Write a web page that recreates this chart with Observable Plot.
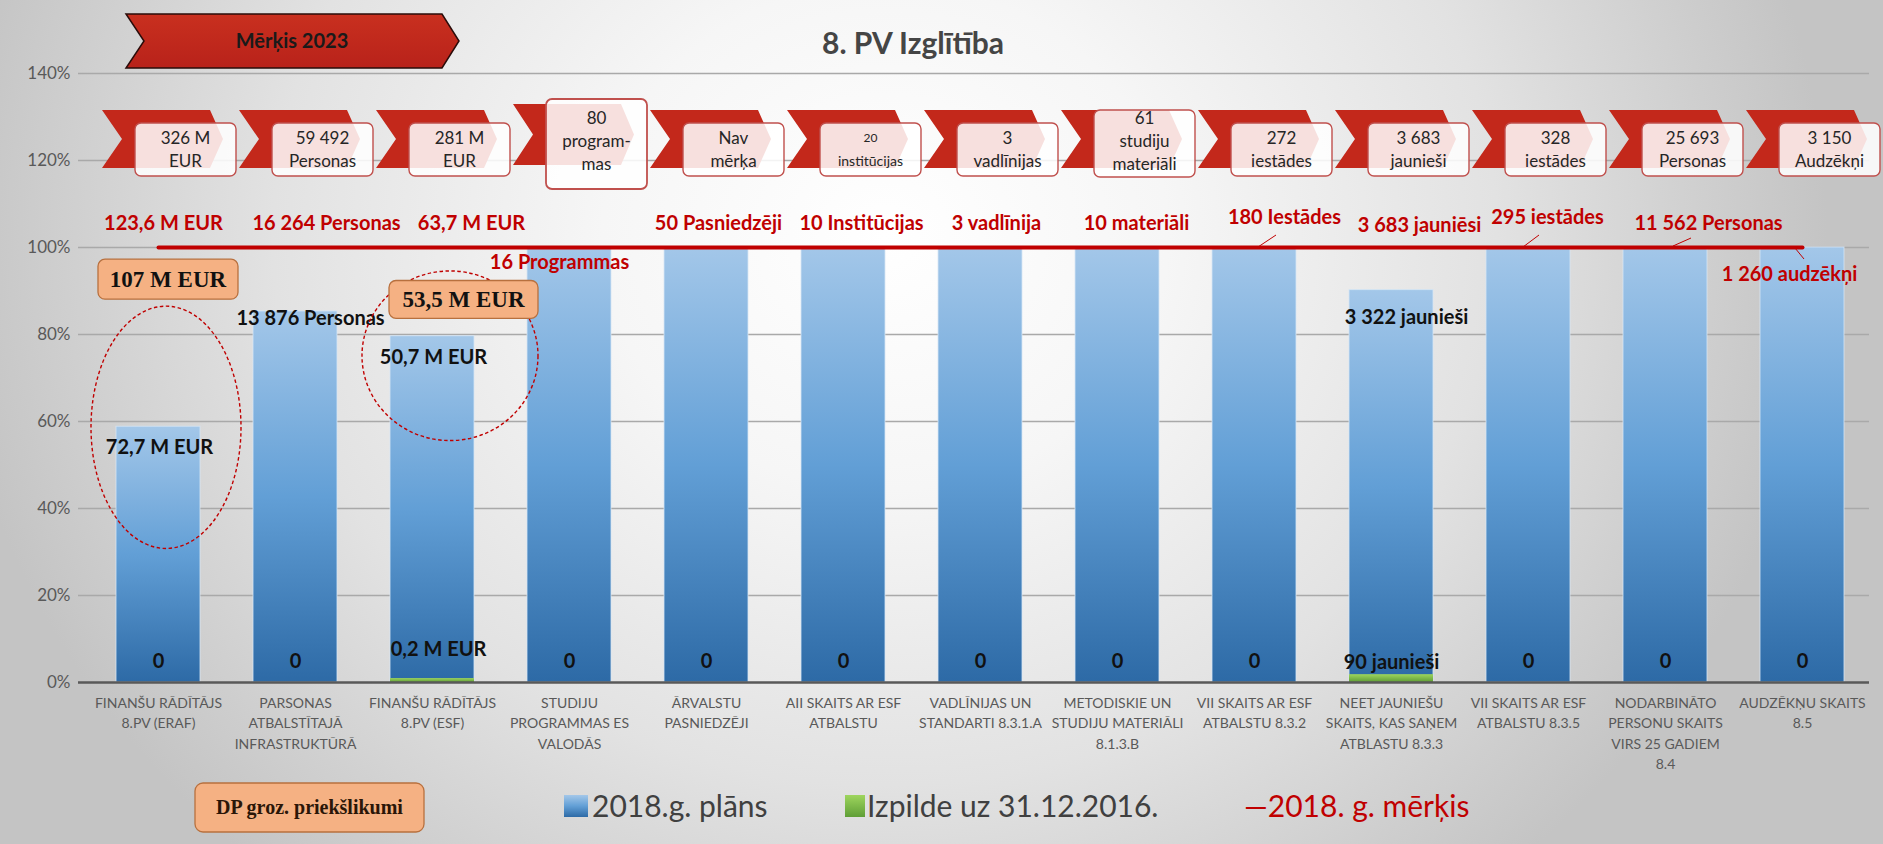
<!DOCTYPE html>
<html>
<head>
<meta charset="utf-8">
<script src="https://cdn.jsdelivr.net/npm/d3@7"></script>
<script src="https://cdn.jsdelivr.net/npm/@observablehq/plot@0.6"></script>
<style>
  html, body { margin: 0; padding: 0; width: 1883px; height: 844px; overflow: hidden; }
  body { background: radial-gradient(ellipse 50% 100% at 47% 28%, #ffffff 0%, #f6f6f6 30%, #e2e2e2 65%, #c4c4c4 100%); }
  svg { display: block; }
</style>
</head>
<body>
<div id="chart"></div>
<script>
// ---------------- data ----------------
const categories = [
  "FINANŠU RĀDĪTĀJS\n8.PV (ERAF)",
  "PARSONAS\nATBALSTĪTAJĀ\nINFRASTRUKTŪRĀ",
  "FINANŠU RĀDĪTĀJS\n8.PV (ESF)",
  "STUDIJU\nPROGRAMMAS ES\nVALODĀS",
  "ĀRVALSTU\nPASNIEDZĒJI",
  "AII SKAITS AR ESF\nATBALSTU",
  "VADLĪNIJAS UN\nSTANDARTI 8.3.1.A",
  "METODISKIE UN\nSTUDIJU MATERIĀLI\n8.1.3.B",
  "VII SKAITS AR ESF\nATBALSTU 8.3.2",
  "NEET JAUNIEŠU\nSKAITS, KAS SAŅEM\nATBLASTU 8.3.3",
  "VII SKAITS AR ESF\nATBALSTU 8.3.5",
  "NODARBINĀTO\nPERSONU SKAITS\nVIRS 25 GADIEM\n8.4",
  "AUDZĒKŅU SKAITS\n8.5"
];
// 2018.g. plāns (% of 2018 target)
const planPct   = [58.8, 85.3, 79.6, 100, 100, 100, 100, 100, 100, 90.2, 100, 100, 100];
// Izpilde uz 31.12.2016. (% of 2018 target)
const actualPct = [0, 0, 0.9, 0, 0, 0, 0, 0, 0, 1.8, 0, 0, 0];
// 2018. g. mērķis
const targetPct = [100, 100, 100, 100, 100, 100, 100, 100, 100, 100, 100, 100, 100];

const planLabels   = ["72,7 M EUR", "13 876 Personas", "50,7 M EUR", "", "", "", "", "", "", "3 322 jaunieši", "", "", ""];
const actualLabels = ["0", "0", "0,2 M EUR", "0", "0", "0", "0", "0", "0", "90 jaunieši", "0", "0", "0"];
const targetLabels = ["123,6 M EUR", "16 264 Personas", "63,7 M EUR", "16 Programmas", "50 Pasniedzēji",
  "10 Institūcijas", "3 vadlīnija", "10 materiāli", "180 Iestādes", "3 683 jauniēsi", "295 iestādes",
  "11 562 Personas", "1 260 audzēkņi"];
const goal2023Labels = ["326 M\nEUR", "59 492\nPersonas", "281 M\nEUR", "80\nprogram-\nmas", "Nav\nmērķa",
  "20\ninstitūcijas", "3\nvadlīnijas", "61\nstudiju\nmateriāli", "272\niestādes", "3 683\njaunieši",
  "328\niestādes", "25 693\nPersonas", "3 150\nAudzēkņi"];
const proposalLabels = ["107 M EUR", "", "53,5 M EUR", "", "", "", "", "", "", "", "", "", ""];
const yTicks = [0, 20, 40, 60, 80, 100, 120, 140];

const titleText = "8. PV Izglītība";
const bannerText = "Mērķis 2023";
const noteText = "DP groz. priekšlikumi";
const legendItems = ["2018.g. plāns", "Izpilde uz 31.12.2016.", "—2018. g. mērķis"];

// ---------------- annotation layout (offsets only) ----------------
const targetLabelDx = [5, 31, 39, -10, 12, 18, 16, 19, 30, 28, 19, 43, -13];
const targetLabelDy = [-24, -24, -24, 15, -24, -24, -24, -24, -30, -22, -30, -24, 27];
const planLabelDx = [1, 15, 1, 0, 0, 0, 0, 0, 0, 15, 0, 0, 0];
const planLabelDy = [21, 7, 21, 0, 0, 0, 0, 0, 0, 27, 0, 0, 0];
const actualLabelDx = [0, 0, 6, 0, 0, 0, 0, 0, 0, 0, 0, 0, 0];
const actualLabelDy = [-21, -21, -33, -21, -21, -21, -21, -21, -21, -20, -21, -21, -21];

const rows = categories.map((cat, i) => ({
  cat, plan: planPct[i], actual: actualPct[i], target: targetPct[i],
  planLabel: planLabels[i], actualLabel: actualLabels[i], targetLabel: targetLabels[i]
}));

const RED = "#c00000";
const FONT = "Lato, 'Open Sans', sans-serif";

const chart = Plot.plot({
  width: 1883,
  height: 844,
  marginTop: 73,
  marginBottom: 162,
  marginLeft: 78,
  marginRight: 14,
  style: { background: "transparent", color: "#595959", fontFamily: FONT, overflow: "visible" },
  x: { domain: categories, range: [85, 1874], paddingInner: 0.39, paddingOuter: 0.195, axis: null },
  y: { domain: [0, 140], axis: null },
  marks: [
    Plot.ruleY(yTicks.filter(d => d > 0), { stroke: "#a9a9a9", strokeWidth: 1.3 }),
    Plot.axisY({ ticks: yTicks, tickFormat: d => d + "%", tickSize: 0, tickPadding: 8, fontSize: 17,
      fontFamily: FONT, fill: "#595959", label: null }),
    Plot.barY(rows, { x: "cat", y: "plan", fill: "url(#blueGrad)", stroke: "#d6e6f5", strokeWidth: 1, strokeOpacity: 0.8 }),
    Plot.barY(rows, { x: "cat", y: "actual", fill: "url(#greenGrad)" }),
    Plot.ruleY([0], { stroke: "#595959", strokeWidth: 2.5 }),
    Plot.lineY(rows, { x: "cat", y: "target", stroke: RED, strokeWidth: 4 }),
    Plot.text(categories, { x: d => d, text: d => d, frameAnchor: "bottom", dy: 11, lineAnchor: "top",
      fontSize: 14, lineHeight: 1.45, fill: "#595959", fontFamily: FONT }),
    ...rows.map((r, i) => Plot.text([r], { x: "cat", y: "target", text: "targetLabel",
      dx: targetLabelDx[i], dy: targetLabelDy[i], fill: RED, fontWeight: "bold", fontSize: 20, fontFamily: FONT })),
    ...rows.filter(r => r.planLabel).map(r => {
      const i = categories.indexOf(r.cat);
      return Plot.text([r], { x: "cat", y: "plan", text: "planLabel", dx: planLabelDx[i], dy: planLabelDy[i],
        fill: "#111", fontWeight: "bold", fontSize: 20, fontFamily: FONT });
    }),
    ...rows.map((r, i) => Plot.text([r], { x: "cat", y: () => 0, text: "actualLabel",
      dx: actualLabelDx[i], dy: actualLabelDy[i], fill: "#111", fontWeight: "bold", fontSize: 20, fontFamily: FONT }))
  ]
});

document.getElementById("chart").appendChild(chart);

// ---------------- decorations placed with the plot's scales ----------------
const xs = chart.scale("x"), ys = chart.scale("y");
const cx = i => xs.apply(categories[i]) + xs.bandwidth / 2;
const Y = v => ys.apply(v);
const svg = d3.select(chart);

const defs = svg.insert("defs", ":first-child");
const bgr = defs.append("linearGradient").attr("id", "blueGrad").attr("x1", 0).attr("y1", 0).attr("x2", 0).attr("y2", 1);
bgr.append("stop").attr("offset", "0%").attr("stop-color", "#a3c7e9");
bgr.append("stop").attr("offset", "50%").attr("stop-color", "#629fd6");
bgr.append("stop").attr("offset", "100%").attr("stop-color", "#2d6aa6");
const ggr = defs.append("linearGradient").attr("id", "greenGrad").attr("x1", 0).attr("y1", 0).attr("x2", 0).attr("y2", 1);
ggr.append("stop").attr("offset", "0%").attr("stop-color", "#9ed55e");
ggr.append("stop").attr("offset", "100%").attr("stop-color", "#5f9e36");
const bannerGrad = defs.append("linearGradient").attr("id", "bannerGrad").attr("x1", 0).attr("y1", 0).attr("x2", 0).attr("y2", 1);
bannerGrad.append("stop").attr("offset", "0%").attr("stop-color", "#c9301f");
bannerGrad.append("stop").attr("offset", "100%").attr("stop-color", "#b8221a");

const deco = svg.append("g").attr("text-anchor", "start");

// title and banner
deco.append("path").attr("d", "M126,14 L442,14 L459,41 L442,68 L126,68 L144,41 Z")
  .attr("fill", "url(#bannerGrad)").attr("stroke", "#2a0c0a").attr("stroke-width", 1.5);
deco.append("text").attr("x", 292).attr("y", 41).attr("dy", "0.35em").attr("text-anchor", "middle")
  .attr("font-family", FONT).attr("font-weight", "bold").attr("font-size", 20).attr("fill", "#1a1a1a").text(bannerText);
deco.append("text").attr("x", 913).attr("y", 43).attr("dy", "0.35em").attr("text-anchor", "middle")
  .attr("font-family", FONT).attr("font-weight", "bold").attr("font-size", 30).attr("fill", "#454545").text(titleText);

// goal 2023 chevrons with boxes
goal2023Labels.forEach((lab, i) => {
  const c = cx(i);
  const lines = lab.split("\n");
  const tall = lines.length === 3 && i === 3;
  const cTop = tall ? 104 : 110, cBot = tall ? 165 : 168, cMid = (cTop + cBot) / 2;
  deco.append("path")
    .attr("d", `M${c - 56},${cTop} L${c + 52},${cTop} L${c + 65},${cMid} L${c + 52},${cBot} L${c - 56},${cBot} L${c - 36},${cMid} Z`)
    .attr("fill", "#c3281b");
  let by, bh;
  if (lines.length === 2) { by = 123; bh = 53; }
  else if (tall) { by = 99; bh = 90; }
  else { by = 110; bh = 67; }
  deco.append("rect").attr("x", c - 23).attr("y", by).attr("width", 101).attr("height", bh).attr("rx", 6)
    .attr("fill", "#ffffff").attr("fill-opacity", 0.86).attr("stroke", "#c0504d").attr("stroke-width", tall ? 1.8 : 1.4);
  const fs = lines.some(l => l.length > 10) ? 14 : 17;
  const ysLines = lines.length === 2 ? [138, 161] : [118, 141, 164];
  lines.forEach((l, k) => {
    deco.append("text").attr("x", c + 27.5).attr("y", ysLines[k]).attr("dy", "0.35em").attr("text-anchor", "middle")
      .attr("font-family", FONT).attr("font-size", (fs === 14 && k === 0) ? 12 : fs).attr("fill", "#262626").text(l);
  });
});

// leader lines of target labels
const leaders = [
  { i: 8, a: [22, -12], b: [4, 0] },
  { i: 10, a: [11, -12], b: [-5, 0] },
  { i: 11, a: [26, -9], b: [8, -1] },
  { i: 12, a: [-7, 1], b: [2, 12] }
];
leaders.forEach(L => {
  const c = cx(L.i), y0 = Y(targetPct[L.i]);
  deco.append("line").attr("x1", c + L.a[0]).attr("y1", y0 + L.a[1]).attr("x2", c + L.b[0]).attr("y2", y0 + L.b[1])
    .attr("stroke", RED).attr("stroke-width", 1);
});

// dashed ellipses
const ellipses = [
  { i: 0, dx: 8, rx: 75, top: 86.4, bottom: 30.7 },
  { i: 2, dx: 18, rx: 88, top: 94.5, bottom: 55.5 }
];
ellipses.forEach(e => {
  const yTop = Y(e.top), yBot = Y(e.bottom);
  deco.append("ellipse").attr("cx", cx(e.i) + e.dx).attr("cy", (yTop + yBot) / 2)
    .attr("rx", e.rx).attr("ry", (yBot - yTop) / 2)
    .attr("fill", "none").attr("stroke", "#c00000").attr("stroke-width", 1.4).attr("stroke-dasharray", "3.5,2.5");
});

// proposal boxes
const proposalBoxes = [
  { dx1: -60, dx2: 80, top: 97.2, bottom: 88.0 },
  null,
  { dx1: -43, dx2: 106, top: 92.3, bottom: 83.6 }
];
proposalLabels.forEach((lab, i) => {
  if (!lab) return;
  const b = proposalBoxes[i];
  const c = cx(i), y1 = Y(b.top), y2 = Y(b.bottom);
  deco.append("rect").attr("x", c + b.dx1).attr("y", y1).attr("width", b.dx2 - b.dx1).attr("height", y2 - y1).attr("rx", 7)
    .attr("fill", "#f5b183").attr("stroke", "#b8703e").attr("stroke-width", 1.3);
  deco.append("text").attr("x", c + (b.dx1 + b.dx2) / 2).attr("y", (y1 + y2) / 2).attr("dy", "0.35em").attr("text-anchor", "middle")
    .attr("font-family", "'Liberation Serif', 'Times New Roman', serif").attr("font-weight", "bold").attr("font-size", 23)
    .attr("fill", "#111").text(lab);
});

// bottom note box
deco.append("rect").attr("x", 195).attr("y", 783).attr("width", 229).attr("height", 49).attr("rx", 8)
  .attr("fill", "#f5b183").attr("stroke", "#b8703e").attr("stroke-width", 1.3);
deco.append("text").attr("x", 309.5).attr("y", 807).attr("dy", "0.35em").attr("text-anchor", "middle")
  .attr("font-family", "'Liberation Serif', 'Times New Roman', serif").attr("font-weight", "bold").attr("font-size", 20)
  .attr("fill", "#2a1608").text(noteText);

// legend
deco.append("rect").attr("x", 564).attr("y", 795).attr("width", 24).attr("height", 22).attr("fill", "url(#blueGrad)");
deco.append("text").attr("x", 592).attr("y", 817).attr("text-anchor", "start").attr("font-family", FONT).attr("font-size", 30)
  .attr("fill", "#404040").text(legendItems[0]);
deco.append("rect").attr("x", 845).attr("y", 795).attr("width", 20).attr("height", 22).attr("fill", "url(#greenGrad)");
deco.append("text").attr("x", 867).attr("y", 817).attr("text-anchor", "start").attr("font-family", FONT).attr("font-size", 30)
  .attr("fill", "#404040").text(legendItems[1]);
deco.append("text").attr("x", 1244).attr("y", 817).attr("text-anchor", "start").attr("font-family", FONT).attr("font-size", 30)
  .attr("fill", RED).text(legendItems[2]);
</script>
</body>
</html>
